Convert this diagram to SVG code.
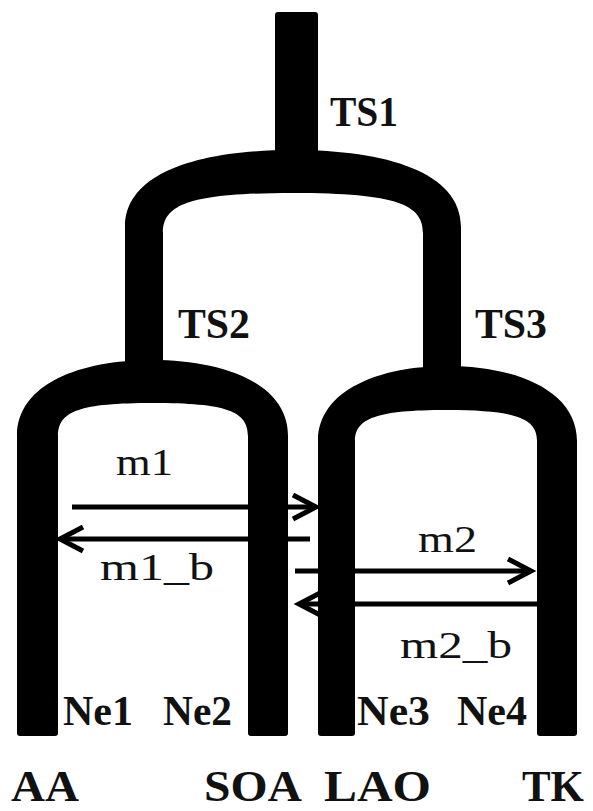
<svg xmlns="http://www.w3.org/2000/svg" width="593" height="811" viewBox="0 0 593 811">
<style>
.br{fill:#000;stroke:none}
.lb{font-family:"Liberation Serif","Times New Roman",serif;font-weight:bold;fill:#111}
.ts{font-size:43px}
.ne{font-size:43px}
.pop{font-size:45px}
.m{font-family:"Liberation Serif","Times New Roman",serif;font-size:38px;fill:#111}
.ar{stroke:#000;stroke-width:5;fill:none}
</style>
<defs>
<marker id="ah" markerUnits="userSpaceOnUse" markerWidth="40" markerHeight="40" viewBox="-30 -20 40 40" refX="0" refY="0" orient="auto">
<path d="M-23,-12 L0,0 L-23,12" fill="none" stroke="#000" stroke-width="5" stroke-linejoin="miter"/>
</marker>
</defs>
<rect width="593" height="811" fill="#fff"/>
<g id="root">
<rect class="br" x="275" y="12" width="43" height="150" rx="3"/>
<text class="lb ts" x="330" y="126" textLength="68" lengthAdjust="spacingAndGlyphs">TS1</text>
</g>
<g id="ts-top-arch">
<path class="br" d="M125,364 V227 C125,172 200,150 293,150 C386,150 461,172 461,227 V370 H423 V233 C423,205 398,193 293,193 C188,193 163,205 163,233 V364 Z"/>
<text class="lb ts" x="178" y="338" textLength="72" lengthAdjust="spacingAndGlyphs">TS2</text>
<text class="lb ts" x="475" y="338" textLength="72" lengthAdjust="spacingAndGlyphs">TS3</text>
</g>
<g id="left-arch">
<path class="br" d="M17,733 V436 C17,384 80,360 152,360 C225,360 288,384 288,436 V733 Q288,736 285,736 H251 Q248,736 248,733 V436 C248,411 226,403 153,403 C80,403 58,411 58,436 V733 Q58,736 55,736 H20 Q17,736 17,733 Z"/>
<text class="lb ne" x="63" y="725" textLength="70" lengthAdjust="spacingAndGlyphs">Ne1</text>
<text class="lb ne" x="163" y="725" textLength="69" lengthAdjust="spacingAndGlyphs">Ne2</text>
</g>
<g id="right-arch">
<path class="br" d="M318,733 V441 C318,390 380,366 447,366 C515,366 577,390 577,441 V733 Q577,736 574,736 H540 Q537,736 537,733 V441 C537,418 515,410 446,410 C378,410 355,418 355,441 V733 Q355,736 352,736 H321 Q318,736 318,733 Z"/>
<text class="lb ne" x="357" y="725" textLength="73" lengthAdjust="spacingAndGlyphs">Ne3</text>
<text class="lb ne" x="457" y="725" textLength="70" lengthAdjust="spacingAndGlyphs">Ne4</text>
</g>
<g id="populations">
<text class="lb pop" x="11" y="801" textLength="68" lengthAdjust="spacingAndGlyphs">AA</text>
<text class="lb pop" x="204" y="801" textLength="98" lengthAdjust="spacingAndGlyphs">SOA</text>
<text class="lb pop" x="324" y="801" textLength="107" lengthAdjust="spacingAndGlyphs">LAO</text>
<text class="lb pop" x="522" y="801" textLength="62" lengthAdjust="spacingAndGlyphs">TK</text>
</g>
<g id="connectors">
<path class="ar" d="M72,507 H316" marker-end="url(#ah)"/>
<path class="ar" d="M310,539 H60" marker-end="url(#ah)"/>
<path class="ar" d="M295,571 H531" marker-end="url(#ah)"/>
<path class="ar" d="M537,604 H299" marker-end="url(#ah)"/>
<text class="m" x="116" y="475" textLength="57" lengthAdjust="spacingAndGlyphs">m1</text>
<text class="m" x="100" y="580" textLength="114" lengthAdjust="spacingAndGlyphs">m1_b</text>
<text class="m" x="418" y="552" textLength="59" lengthAdjust="spacingAndGlyphs">m2</text>
<text class="m" x="400" y="658" textLength="112" lengthAdjust="spacingAndGlyphs">m2_b</text>
</g>
</svg>
